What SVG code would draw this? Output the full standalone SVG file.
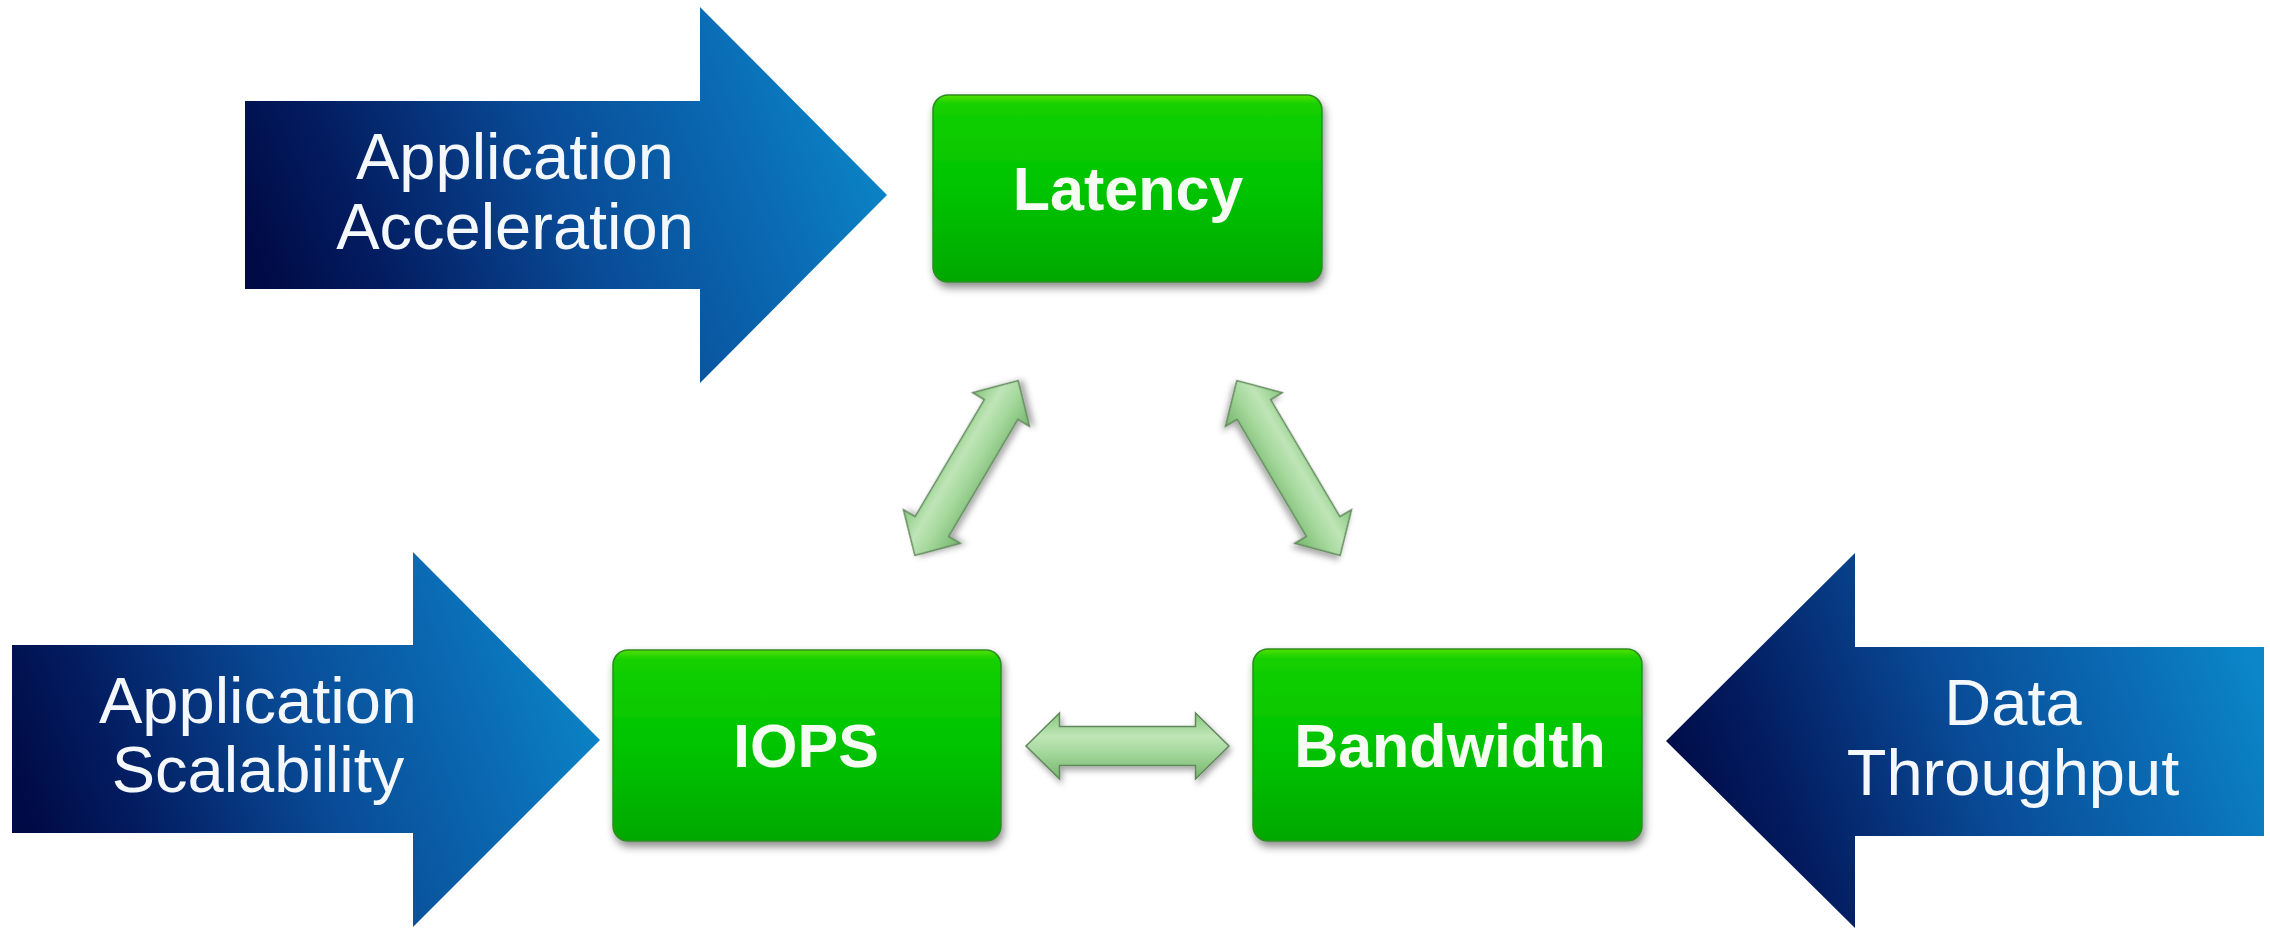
<svg xmlns="http://www.w3.org/2000/svg" width="2270" height="929" viewBox="0 0 2270 929">
  <defs>
    <!-- navy-to-cyan fill for the large block arrows -->
    <linearGradient id="blueFill" x1="0" y1="0.62" x2="1" y2="0.38">
      <stop offset="0" stop-color="#000a45"/>
      <stop offset="0.18" stop-color="#031c60"/>
      <stop offset="0.5" stop-color="#094b97"/>
      <stop offset="0.8" stop-color="#0a6cb4"/>
      <stop offset="1" stop-color="#0b86c8"/>
    </linearGradient>
    <!-- glossy green for the metric boxes -->
    <linearGradient id="greenFill" x1="0" y1="0" x2="0" y2="1">
      <stop offset="0" stop-color="#52e000"/>
      <stop offset="0.05" stop-color="#14d000"/>
      <stop offset="0.5" stop-color="#00c400"/>
      <stop offset="1" stop-color="#03a804"/>
    </linearGradient>
    <!-- soft pale green for the double-headed connectors -->
    <linearGradient id="linkFill" x1="0" y1="0" x2="0" y2="1">
      <stop offset="0" stop-color="#85c77c"/>
      <stop offset="0.35" stop-color="#bfe5b7"/>
      <stop offset="0.6" stop-color="#a5d89c"/>
      <stop offset="1" stop-color="#74b66b"/>
    </linearGradient>
    <filter id="boxShadow" x="-10%" y="-10%" width="125%" height="135%">
      <feDropShadow dx="2" dy="5" stdDeviation="4" flood-color="#000" flood-opacity="0.45"/>
    </filter>
    <filter id="linkShadow" x="-20%" y="-30%" width="140%" height="160%">
      <feDropShadow dx="2" dy="4" stdDeviation="3" flood-color="#000" flood-opacity="0.35"/>
    </filter>
    <!-- double-headed connector, centred on the origin along the x axis -->
    <path id="dblArrow" d="M -101.5 0 L -68 -33 L -68 -19.5 L 68 -19.5 L 68 -33 L 101.5 0 L 68 33 L 68 19.5 L -68 19.5 L -68 33 Z"/>
  </defs>
  <style>
    .blue { fill: url(#blueFill); }
    .box { fill: url(#greenFill); stroke: #2c8c22; stroke-width: 1.5; filter: url(#boxShadow); }
    .boxLabel { font-family: "Liberation Sans", Arial, sans-serif; font-weight: bold; font-size: 61px; fill: #f6fbf4; text-anchor: middle; }
    .arrowLabel { font-family: "Liberation Sans", Arial, sans-serif; font-size: 65px; fill: #f4f8fc; text-anchor: middle; }
    .link { fill: url(#linkFill); stroke: #62875c; stroke-width: 1.5; filter: url(#linkShadow); }
  </style>

  <rect width="2270" height="929" fill="#ffffff"/>

  <!-- input arrows -->
  <g id="node-application-acceleration">
    <polygon class="blue" points="245,101 700,101 700,7 887,195 700,383 700,289 245,289"/>
    <text class="arrowLabel" x="515" y="179">Application</text>
    <text class="arrowLabel" x="515" y="249">Acceleration</text>
  </g>

  <g id="node-application-scalability">
    <polygon class="blue" points="12,645 413,645 413,552 600,740 413,927 413,833 12,833"/>
    <text class="arrowLabel" x="258" y="723">Application</text>
    <text class="arrowLabel" x="258" y="792">Scalability</text>
  </g>

  <g id="node-data-throughput">
    <polygon class="blue" points="2264,647 1855,647 1855,553 1666,741 1855,928 1855,836 2264,836"/>
    <text class="arrowLabel" x="2013" y="725">Data</text>
    <text class="arrowLabel" x="2013" y="795">Throughput</text>
  </g>

  <!-- metric boxes -->
  <g id="node-latency">
    <rect class="box" x="933" y="95" width="389" height="187" rx="15" ry="15"/>
    <text class="boxLabel" x="1128" y="210">Latency</text>
  </g>

  <g id="node-iops">
    <rect class="box" x="613" y="650" width="388" height="191" rx="15" ry="15"/>
    <text class="boxLabel" x="806" y="767">IOPS</text>
  </g>

  <g id="node-bandwidth">
    <rect class="box" x="1253" y="649" width="389" height="192" rx="15" ry="15"/>
    <text class="boxLabel" x="1450" y="767">Bandwidth</text>
  </g>

  <!-- two-way links between the metrics -->
  <g id="connectors">
    <use href="#dblArrow" class="link" transform="translate(966.5 468) rotate(-59.4)"/>
    <use href="#dblArrow" class="link" transform="translate(1288.5 468) rotate(59.4)"/>
    <use href="#dblArrow" class="link" transform="translate(1127.5 746)"/>
  </g>
</svg>
